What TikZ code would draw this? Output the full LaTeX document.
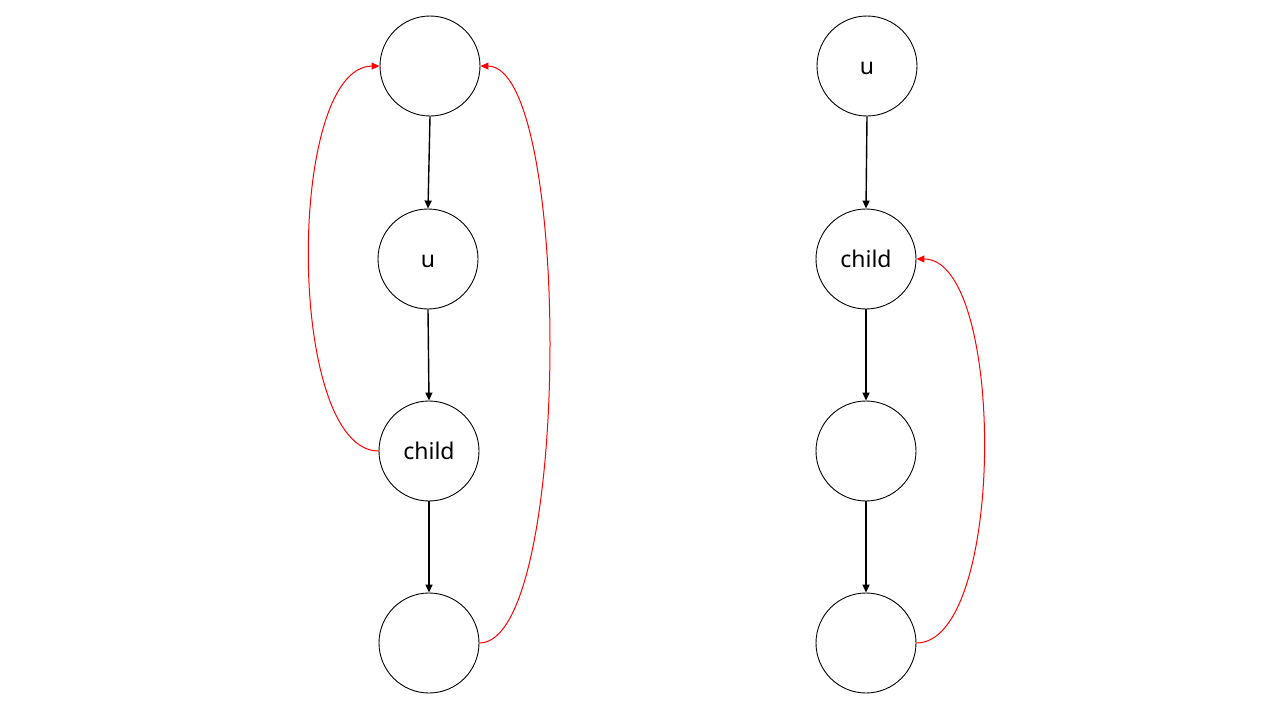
\documentclass[tikz,border=0pt]{standalone}
\usepackage{fontspec}
\setmainfont{Noto Sans}
\usetikzlibrary{arrows.meta}
\begin{document}
\begin{tikzpicture}[x=1pt,y=-1pt,
  vnode/.style={circle,draw=black,line width=0.9pt,minimum size=100pt,inner sep=0pt,font=\fontsize{23}{27}\selectfont,execute at begin node=\vphantom{h}},
  tree/.style={line width=1.4pt,-{Triangle[length=8pt,width=7pt]}},
  back/.style={red,line width=1pt,-{Triangle[length=8pt,width=7pt]}}]
\useasboundingbox (0,0) rectangle (1280,720);
\node[vnode] (a1) at (430,66) {};
\node[vnode] (a2) at (428,259) {u};
\node[vnode] (a3) at (429,451) {child};
\node[vnode] (a4) at (429,643) {};
\node[vnode] (b1) at (867,66) {u};
\node[vnode] (b2) at (866,259) {child};
\node[vnode] (b3) at (866,451) {};
\node[vnode] (b4) at (866,643) {};
\draw[tree] (a1.south) -- (a2.north);
\draw[tree] (a2.south) -- (a3.north);
\draw[tree] (a3.south) -- (a4.north);
\draw[tree] (b1.south) -- (b2.north);
\draw[tree] (b2.south) -- (b3.north);
\draw[tree] (b3.south) -- (b4.north);
\draw[back] (a3.west) .. controls (286,451) and (286,67) .. (a1.west);
\draw[back] (a4.east) .. controls (572,643) and (572,67) .. (a1.east);
\draw[back] (b4.east) .. controls (1006,643) and (1006,259) .. (b2.east);
\end{tikzpicture}
\end{document}
